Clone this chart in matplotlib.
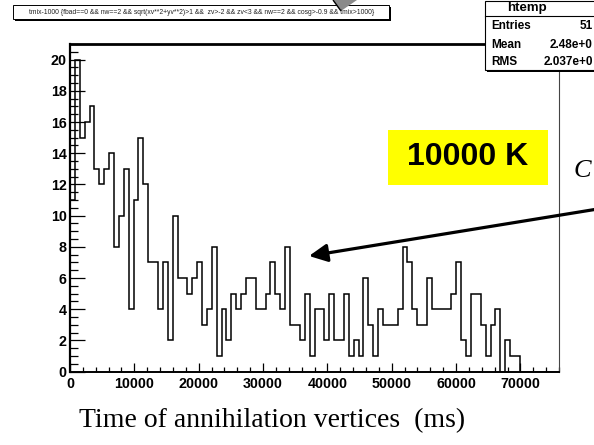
import numpy as np
import matplotlib
matplotlib.use("Agg")
import matplotlib.pyplot as plt
from matplotlib.patches import Rectangle, Polygon
from matplotlib.ticker import MultipleLocator

# tmix distribution: 100 bins over [0, 76000] ms
x_min, x_max, n_bins = 0, 76000, 100
counts = [11, 20, 15, 16, 17, 13, 12, 13, 14, 8,
          10, 13, 4, 11, 15, 12, 7, 7, 4, 7,
          2, 10, 6, 6, 5, 6, 7, 3, 4, 8,
          1, 4, 2, 5, 4, 5, 6, 6, 4, 4,
          5, 7, 5, 4, 8, 3, 3, 2, 5, 1,
          4, 4, 2, 5, 2, 2, 5, 1, 2, 1,
          6, 3, 1, 4, 3, 3, 3, 4, 8, 7,
          4, 3, 3, 6, 4, 4, 4, 4, 5, 7,
          2, 1, 5, 5, 3, 1, 3, 4, 0, 2,
          1, 1, 0, 0, 0, 0, 0, 0, 0, 0]

x_ticks = [0, 10000, 20000, 30000, 40000, 50000, 60000, 70000]
x_tick_labels = ["0", "10000", "20000", "30000", "40000", "50000", "60000", "70000"]
y_ticks = [0, 2, 4, 6, 8, 10, 12, 14, 16, 18, 20]
y_tick_labels = [str(v) for v in y_ticks]
y_top = 21

hist_name = "htemp"
stats_labels = ["Entries", "Mean", "RMS"]
stats_values = ["51", "2.48e+0", "2.037e+0"]
selection = ("tmix-1000 {fbad==0 && nw==2 && sqrt(xv**2+yv**2)>1 &&  zv>-2 && zv<3 "
             "&& nw==2 && cosg>-0.9 && tmix>1000}")
temperature_note = "10000 K"
x_title = "Time of annihilation vertices  (ms)"

W, H = 594, 445
fig = plt.figure(figsize=(W / 100, H / 100), dpi=100)

# main histogram frame (pixel box: x 70..559, y 44..372)
left, right, top, bottom = 70, 559, 44, 371.7
ax = fig.add_axes([left / W, (H - bottom) / H, (right - left) / W, (bottom - top) / H])
edges = np.linspace(x_min, x_max, n_bins + 1)
ax.stairs(counts, edges, baseline=0, color="black", lw=1.1)
ax.set_xlim(x_min, x_max)
ax.set_ylim(0, y_top)

ax.set_xticks(x_ticks, x_tick_labels)
ax.set_yticks(y_ticks, y_tick_labels)
ax.xaxis.set_minor_locator(MultipleLocator(2000))
ax.yaxis.set_minor_locator(MultipleLocator(0.5))
ax.tick_params(which="both", direction="in", top=False, right=False, width=0.9, color="black")
ax.tick_params(axis="x", which="major", length=6.5, pad=3.5)
ax.tick_params(axis="x", which="minor", length=3.6)
ax.tick_params(axis="y", which="major", length=10.8, pad=2.4)
ax.tick_params(axis="y", which="minor", length=5.4)
for lab in ax.get_xticklabels() + ax.get_yticklabels():
    lab.set_fontfamily("Liberation Sans")
    lab.set_fontweight("bold")
    lab.set_fontsize(10.3)

ax.spines["left"].set_linewidth(1.6)
ax.spines["bottom"].set_linewidth(1.4)
ax.spines["top"].set_linewidth(2.0)
ax.spines["right"].set_linewidth(0.8)
ax.spines["right"].set_color("#444444")

# overlay in pixel coordinates for boxes and annotations
ov = fig.add_axes([0, 0, 1, 1])
ov.set_xlim(0, W)
ov.set_ylim(H, 0)
ov.axis("off")

# selection title pave with shadow
ov.add_patch(Rectangle((14.7, 7), 376, 14, fc="black", ec="none"))
ov.add_patch(Rectangle((12.7, 5), 376, 14, fc="white", ec="black", lw=0.7))
ov.text(201.5, 12.2, selection, ha="center", va="center", fontsize=4.9,
        family="Liberation Sans", color="#222222")

# grey arrow tip poking in at the top
ov.add_patch(Polygon([(333, 0), (341, 11), (357, 0)], closed=True,
                     fc="#8a8a8a", ec="none", clip_on=False))
ov.plot([333, 341], [0, 11], color="black", lw=1.0, solid_capstyle="butt")

# statistics box
ov.add_patch(Rectangle((487, 3), 150, 69, fc="black", ec="none", clip_on=False))
ov.add_patch(Rectangle((485, 1), 150, 69, fc="white", ec="black", lw=0.8, clip_on=False))
ov.plot([485, 635], [16, 16], color="black", lw=0.8)
ov.text(527, 8.5, hist_name, ha="center", va="center", fontsize=9.5,
        family="Liberation Sans", weight="bold")
for lbl, val, yy in zip(stats_labels, stats_values, [26, 45, 62]):
    ov.text(491, yy, lbl, ha="left", va="center", fontsize=8.5,
            family="Liberation Sans", weight="bold")
    ov.text(593, yy, val, ha="right", va="center", fontsize=8.5,
            family="Liberation Sans", weight="bold")

# temperature label
ov.add_patch(Rectangle((388, 130), 160, 55, fc="#ffff00", ec="none"))
ov.text(468, 157, temperature_note, ha="center", va="center", fontsize=23,
        family="Liberation Sans", weight="bold")

# arrow pointing into the histogram
ov.annotate("", xy=(309, 256), xytext=(610, 207), annotation_clip=False,
            arrowprops=dict(arrowstyle="-|>,head_length=0.55,head_width=0.27",
                            mutation_scale=20, lw=2.3, color="black",
                            shrinkA=0, shrinkB=0))

# handwritten letter at the right edge
ov.text(574, 171, "C", ha="left", va="center", fontsize=19, style="italic",
        family="Liberation Serif", color="black")

# axis title
ov.text(272.5, 421, x_title, ha="center", va="center", fontsize=20,
        family="Liberation Serif")

fig.savefig("out.png", dpi=100)
